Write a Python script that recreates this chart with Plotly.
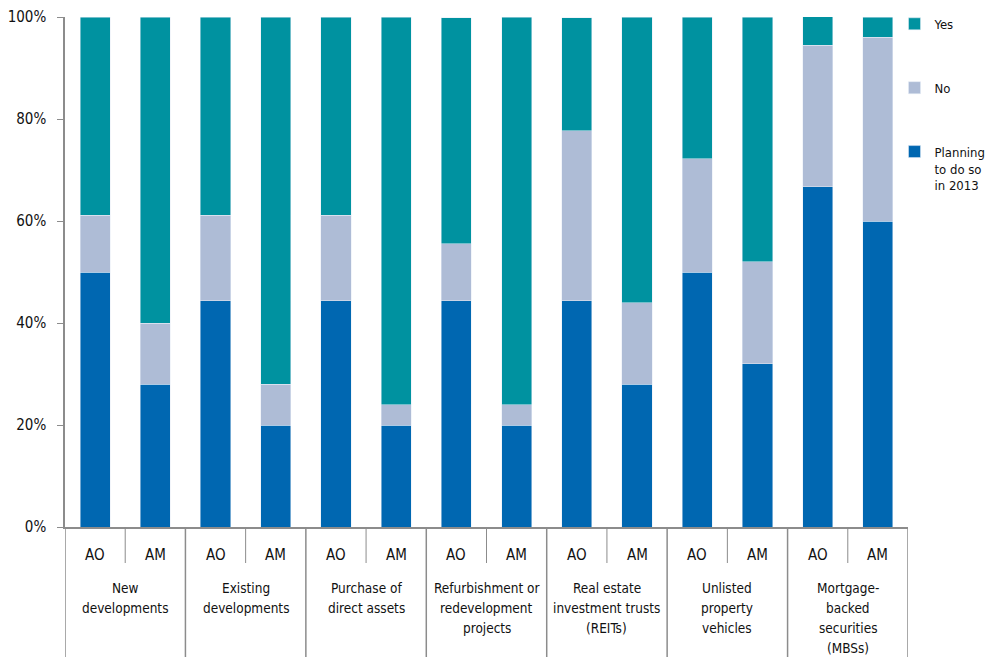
import plotly.graph_objects as go

groups = ["New<br>developments", "Existing<br>developments", "Purchase of<br>direct assets",
          "Refurbishment or<br>redevelopment<br>projects", "Real estate<br>investment trusts<br>(REITs)",
          "Unlisted<br>property<br>vehicles", "Mortgage-<br>backed<br>securities<br>(MBSs)"]
subs = ["AO", "AM"]

planning = [50.0, 28, 44.4, 20, 44.4, 20, 44.4, 20, 44.4, 28, 50.0, 32, 66.7, 60]
no = [11.1, 12, 16.7, 8, 16.7, 4, 11.1, 4, 33.3, 16, 22.2, 20, 27.8, 36]
yes = [38.9, 60, 38.9, 72, 38.9, 76, 44.4, 76, 22.2, 56, 27.8, 48, 5.6, 4]

y_ticks = [0, 20, 40, 60, 80, 100]
y_ticktext = [f"{v}%" for v in y_ticks]

outer = [g for g in groups for _ in subs]
inner = [s for _ in groups for s in subs]
x = [outer, inner]

C_YES = "#0092A0"
C_NO = "#AEBCD6"
C_PLAN = "#0067B1"
C_LINE = "#8c8c8c"
TXT = "#111111"
FONT = "DejaVu Sans Condensed, Roboto, sans-serif"

PLOT_H = 510.0  # plot-area height in px (used to place labels below the axis)

fig = go.Figure()
fig.add_bar(x=x, y=planning, name="Planning<br>to do so<br>in 2013", marker_color=C_PLAN,
            legendrank=3, legendgroup="p")
fig.add_bar(x=x, y=no, name="No", marker_color=C_NO, legendrank=2, legendgroup="n")
fig.add_bar(x=x, y=yes, name="Yes", marker_color=C_YES, legendrank=1, legendgroup="y")

n = len(outer)
shapes = []
annotations = []
# dividers: inner (short) between AO/AM, outer (long) between groups and at both ends
for i in range(len(groups)):
    xc = 2 * i + 0.5
    shapes.append(dict(type="line", xref="x", yref="paper", x0=xc, x1=xc, y0=0, y1=-36 / PLOT_H,
                       line=dict(color=C_LINE, width=1)))
for k in range(len(groups) + 1):
    xb = 2 * k - 0.5
    shapes.append(dict(type="line", xref="x", yref="paper", x0=xb, x1=xb, y0=0, y1=-0.5,
                       line=dict(color=C_LINE, width=1.5)))

for idx in range(n):
    annotations.append(dict(x=idx, y=-28 / PLOT_H, xref="x", yref="paper", text=inner[idx],
                            showarrow=False, yanchor="middle",
                            font=dict(size=15, family=FONT, color=TXT)))
for i, g in enumerate(groups):
    for j, line in enumerate(g.split("<br>")):
        annotations.append(dict(x=2 * i + 0.5, y=-(61 + 20 * j) / PLOT_H, xref="x", yref="paper",
                                text=line, showarrow=False, yanchor="middle", align="center",
                                font=dict(size=13.5, family=FONT, color=TXT)))

fig.update_layout(
    barmode="stack",
    bargap=0.5,
    width=985, height=649,
    margin=dict(l=57, r=85, t=9, b=130, autoexpand=False),
    plot_bgcolor="white", paper_bgcolor="white",
    font=dict(family=FONT, size=14, color=TXT),
    showlegend=True,
    legend=dict(x=0.984, y=1.016, xanchor="left", yanchor="top", tracegroupgap=44,
                valign="top", font=dict(size=13, family=FONT, color=TXT),
                traceorder="grouped", bgcolor="rgba(0,0,0,0)"),
    shapes=shapes,
    annotations=annotations,
    xaxis=dict(type="multicategory", showline=True, linecolor=C_LINE, linewidth=1.5,
               ticks="", showticklabels=False, showdividers=False, automargin=False,
               range=[-0.5, n - 0.5]),
    yaxis=dict(range=[0, 100], tickvals=y_ticks, ticktext=y_ticktext,
               showline=True, linecolor=C_LINE, linewidth=1.5, ticks="outside",
               ticklen=6, tickcolor=C_LINE, showgrid=False, zeroline=False,
               ticklabelstandoff=8,
               tickfont=dict(size=15, family=FONT, color=TXT), automargin=False),
)

fig.write_html("out.html")
